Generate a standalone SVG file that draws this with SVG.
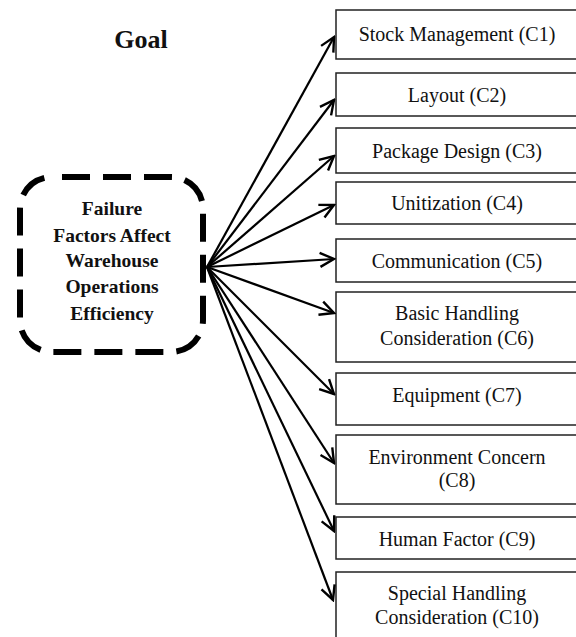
<svg xmlns="http://www.w3.org/2000/svg" width="576" height="637" viewBox="0 0 576 637">
<style>
.box{fill:#fff;stroke:#222;stroke-width:1.5}
.lbl{font-family:"Liberation Serif","Times New Roman",serif;font-size:20px;fill:#111;text-anchor:middle}
.bold{font-family:"Liberation Serif","Times New Roman",serif;font-weight:bold;fill:#111;text-anchor:middle}
.conn line{stroke:#000;stroke-width:2.2;marker-end:url(#ah)}
</style>
<defs>
<marker id="ah" markerUnits="userSpaceOnUse" viewBox="-16 -9 18 18" refX="0" refY="0" markerWidth="18" markerHeight="18" orient="auto">
<path d="M-14,-7 L0,0 L-14,7" fill="none" stroke="#000" stroke-width="2.4" stroke-linejoin="miter"/>
</marker>
</defs>
<rect width="576" height="637" fill="#fff"/>
<g id="goal-title"><text class="bold" x="141" y="48" font-size="26">Goal</text></g>
<g id="goal">
<rect x="20" y="177" width="183" height="175" rx="32" fill="#fff" stroke="#000" stroke-width="6" stroke-dasharray="28 13" stroke-dashoffset="-10"/>
<text class="bold" font-size="19.5" x="112"><tspan x="112" y="215">Failure</tspan><tspan x="112" y="242">Factors Affect</tspan><tspan x="112" y="267">Warehouse</tspan><tspan x="112" y="293">Operations</tspan><tspan x="112" y="320">Efficiency</tspan></text>
</g>
<g id="c1"><rect class="box" x="336" y="10" width="242" height="49"/><text class="lbl" x="457" y="41">Stock Management (C1)</text></g>
<g id="c2"><rect class="box" x="336" y="73" width="242" height="43"/><text class="lbl" x="457" y="102">Layout (C2)</text></g>
<g id="c3"><rect class="box" x="336" y="128" width="242" height="45"/><text class="lbl" x="457" y="158">Package Design (C3)</text></g>
<g id="c4"><rect class="box" x="336" y="182" width="242" height="42"/><text class="lbl" x="457" y="210">Unitization (C4)</text></g>
<g id="c5"><rect class="box" x="336" y="239" width="242" height="43"/><text class="lbl" x="457" y="268">Communication (C5)</text></g>
<g id="c6"><rect class="box" x="336" y="292" width="242" height="70"/><text class="lbl" x="457"><tspan x="457" y="320">Basic Handling</tspan><tspan x="457" y="345">Consideration (C6)</tspan></text></g>
<g id="c7"><rect class="box" x="336" y="373" width="242" height="52"/><text class="lbl" x="457" y="402">Equipment (C7)</text></g>
<g id="c8"><rect class="box" x="336" y="435" width="242" height="69"/><text class="lbl" x="457"><tspan x="457" y="464">Environment Concern</tspan><tspan x="457" y="487">(C8)</tspan></text></g>
<g id="c9"><rect class="box" x="336" y="517" width="242" height="42"/><text class="lbl" x="457" y="546">Human Factor (C9)</text></g>
<g id="c10"><rect class="box" x="336" y="572" width="242" height="80"/><text class="lbl" x="457"><tspan x="457" y="600">Special Handling</tspan><tspan x="457" y="624">Consideration (C10)</tspan></text></g>
<g class="conn" id="connectors">
<line x1="207" y1="267" x2="334" y2="37"/>
<line x1="207" y1="267" x2="334" y2="100"/>
<line x1="207" y1="267" x2="334" y2="156"/>
<line x1="207" y1="267" x2="334" y2="205"/>
<line x1="207" y1="267" x2="334" y2="259"/>
<line x1="207" y1="267" x2="334" y2="313"/>
<line x1="207" y1="267" x2="334" y2="394"/>
<line x1="207" y1="267" x2="334" y2="463"/>
<line x1="207" y1="267" x2="334" y2="531"/>
<line x1="207" y1="267" x2="333" y2="600"/>
</g>
</svg>
